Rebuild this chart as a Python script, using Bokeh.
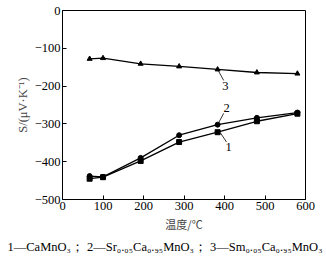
from bokeh.plotting import figure
from bokeh.models import Label, FixedTicker, Range1d, Title
from bokeh.embed import file_html
from bokeh.resources import INLINE

# Data
temps = [67, 100, 193, 288, 383, 480, 580]
s_camno3 = [-445, -441, -398, -348, -322, -293, -273]     # 1 squares
s_sr = [-438, -440, -390, -330, -302, -284, -270]          # 2 circles
s_sm = [-128, -126, -141, -148, -156, -164, -167]          # 3 triangles
x_ticks = [0, 100, 200, 300, 400, 500, 600]
y_ticks = [0, -100, -200, -300, -400, -500]

SERIF = "Liberation Serif"

p = figure(width=326, height=263, output_backend="svg", toolbar_location=None,
           x_range=Range1d(0, 600), y_range=Range1d(-500, 0),
           min_border_left=62, min_border_right=21, min_border_top=10, min_border_bottom=64)
p.background_fill_color = "white"
p.border_fill_color = "white"
p.outline_line_color = "black"
p.outline_line_width = 1
p.grid.visible = False

for ax in (p.xaxis[0], p.yaxis[0]):
    ax.major_tick_in = 4
    ax.major_tick_out = 0
    ax.minor_tick_in = 0
    ax.minor_tick_out = 0
    ax.major_label_text_font = SERIF
    ax.major_label_text_font_size = "12.5px"
    ax.major_label_text_color = "black"
    ax.axis_line_color = "black"
    ax.major_tick_line_color = "black"
    ax.major_label_standoff = 2

p.xaxis.ticker = FixedTicker(ticks=x_ticks)
p.yaxis.ticker = FixedTicker(ticks=y_ticks)
p.yaxis.major_label_overrides = {t: ("0" if t == 0 else "\u2212" + str(-t)) for t in y_ticks}

p.xaxis.axis_label = "温度/℃"
p.xaxis.axis_label_text_font = "Noto Sans CJK SC"
p.xaxis.axis_label_text_font_style = "normal"
p.xaxis.axis_label_text_font_size = "11px"
p.xaxis.axis_label_standoff = 3

p.yaxis.axis_label = "S/(μV·K⁻¹)"
p.yaxis.axis_label_text_font = SERIF
p.yaxis.axis_label_text_font_style = "normal"
p.yaxis.axis_label_text_font_size = "12.5px"
p.yaxis.axis_label_standoff = 2

lw = 1.3
p.line(temps, s_camno3, color="black", line_width=lw)
p.scatter(temps, s_camno3, marker="square", size=5, color="black")
p.line(temps, s_sr, color="black", line_width=lw)
p.scatter(temps, s_sr, marker="circle", size=5, color="black")
p.line(temps, s_sm, color="black", line_width=lw)
p.scatter(temps, s_sm, marker="triangle", size=5, color="black")

# curve labels with leader lines
p.line([383, 398], [-156, -185], color="black", line_width=0.8)
p.line([383, 398], [-302, -272], color="black", line_width=0.8)
p.line([390, 405], [-324, -348], color="black", line_width=0.8)
for txt, x, y in [("3", 402, -200), ("2", 405, -258), ("1", 410, -362)]:
    p.add_layout(Label(x=x, y=y, text=txt, text_font=SERIF, text_font_size="12.5px",
                       text_align="center", text_baseline="middle", text_color="black"))

caption = Title(text="1—CaMnO₃； 2—Sr₀.₀₅Ca₀.₉₅MnO₃； 3—Sm₀.₀₅Ca₀.₉₅MnO₃",
                align="left", offset=-55, text_font=SERIF, text_font_size="12.5px",
                text_font_style="normal", text_color="black", standoff=6)
p.add_layout(caption, "below")

open("out.html", "w").write(file_html(p, INLINE))
